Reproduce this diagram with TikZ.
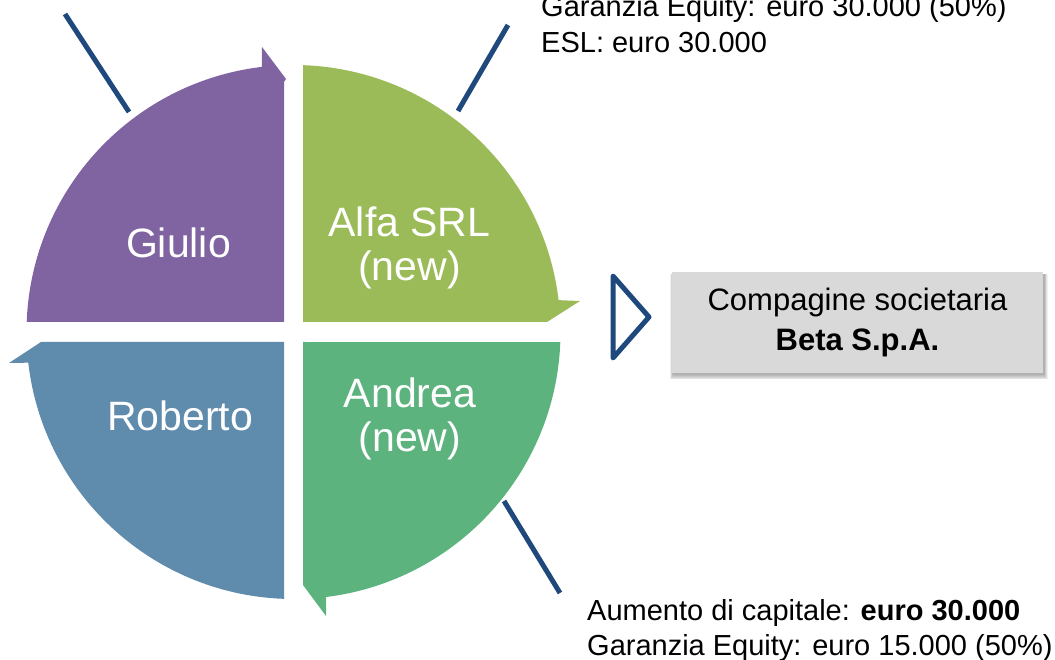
\documentclass[tikz,border=0pt]{standalone}
\usepackage{fontspec}
\setmainfont{Liberation Sans}
\usetikzlibrary{calc}
\definecolor{purp}{RGB}{128,100,162}
\definecolor{lgreen}{RGB}{155,187,89}
\definecolor{bblue}{RGB}{95,139,173}
\definecolor{mgreen}{RGB}{93,179,126}
\definecolor{navy}{RGB}{31,73,125}
\definecolor{boxgray}{RGB}{217,217,217}
\tikzset{
  quadlabel/.style={text=white, font=\fontsize{41}{44}\selectfont, align=center, inner sep=0pt},
  note/.style={text=black, font=\fontsize{29}{35}\selectfont, inner sep=0pt, anchor=base west},
  conn/.style={draw=navy, line width=5pt},
  betabox/.style={fill=boxgray, minimum width=371pt, minimum height=101pt, align=center,
    font=\fontsize{31}{40}\selectfont, inner sep=0pt},
  softshadow/.style={fill=black, opacity=0.06},
}
\begin{document}
\begin{tikzpicture}[x=1pt,y=-1pt]
\useasboundingbox (0,0) rectangle (1055,660);
\coordinate (C) at (293.5,332);
% quadrants
\fill[purp] (284,322) -- ($(C)+(182.15:267)$) arc[start angle=182.15, end angle=263.2, radius=267]
  -- (262,47) -- (286,79) -- (284,82) -- cycle;
\fill[lgreen] (303,322) -- ($(C)+(272.04:267)$) arc[start angle=272.04, end angle=353.15, radius=267]
  -- (580,301) -- (547,322) -- cycle;
\fill[bblue] (284,342) -- (41,342) -- (9,363) -- ($(C)+(173.4:267)$) arc[start angle=173.4, end angle=92.04, radius=267]
  -- cycle;
\fill[mgreen] (303,342) -- ($(C)+(2.15:267)$) arc[start angle=2.15, end angle=83.0, radius=267]
  -- (326,616) -- (303,585) -- cycle;
% labels
\node[quadlabel, anchor=base] (giulio) at (178.5,258) {Giulio};
\node[quadlabel] (alfa) at (409.5,247.5) {Alfa SRL\\(new)};
\node[quadlabel] (andrea) at (410,419) {Andrea\\(new)};
\node[quadlabel, anchor=base] (roberto) at (180,430) {Roberto};
% connectors
\coordinate (l1a) at (65,14);  \coordinate (l1b) at (129,112);
\coordinate (l2a) at (508,25); \coordinate (l2b) at (458,111);
\coordinate (l3a) at (504,501); \coordinate (l3b) at (560,593);
\draw[conn] (l1a) -- (l1b);
\draw[conn] (l2a) -- (l2b);
\draw[conn] (l3a) -- (l3b);
% notes
\node[note] (n1) at (541,17) {Garanzia Equity: euro 30.000 (50\%)};
\node[note] (n2) at (541,52.3) {ESL: euro 30.000};
\node[note] (n3) at (587,620.5) {Aumento di capitale: \textbf{euro 30.000}};
\node[note] (n4) at (587,655.5) {Garanzia Equity: euro 15.000 (50\%)};
% triangle
\coordinate (t1) at (613,276); \coordinate (t2) at (649,317); \coordinate (t3) at (613,358);
\draw[navy, line width=5pt, line join=round] (t1) -- (t2) -- (t3) -- cycle;
% soft shadow of the box
\foreach \s in {1,2,...,6}{
  \fill[softshadow] ({672-\s*0.5+1},{272+2}) rectangle ({1043+\s*0.6+1},{373+\s*0.9+1});
}
\node[betabox] (beta) at (857.5,322.5) {Compagine societaria\\\textbf{Beta S.p.A.}};
\end{tikzpicture}
\end{document}
